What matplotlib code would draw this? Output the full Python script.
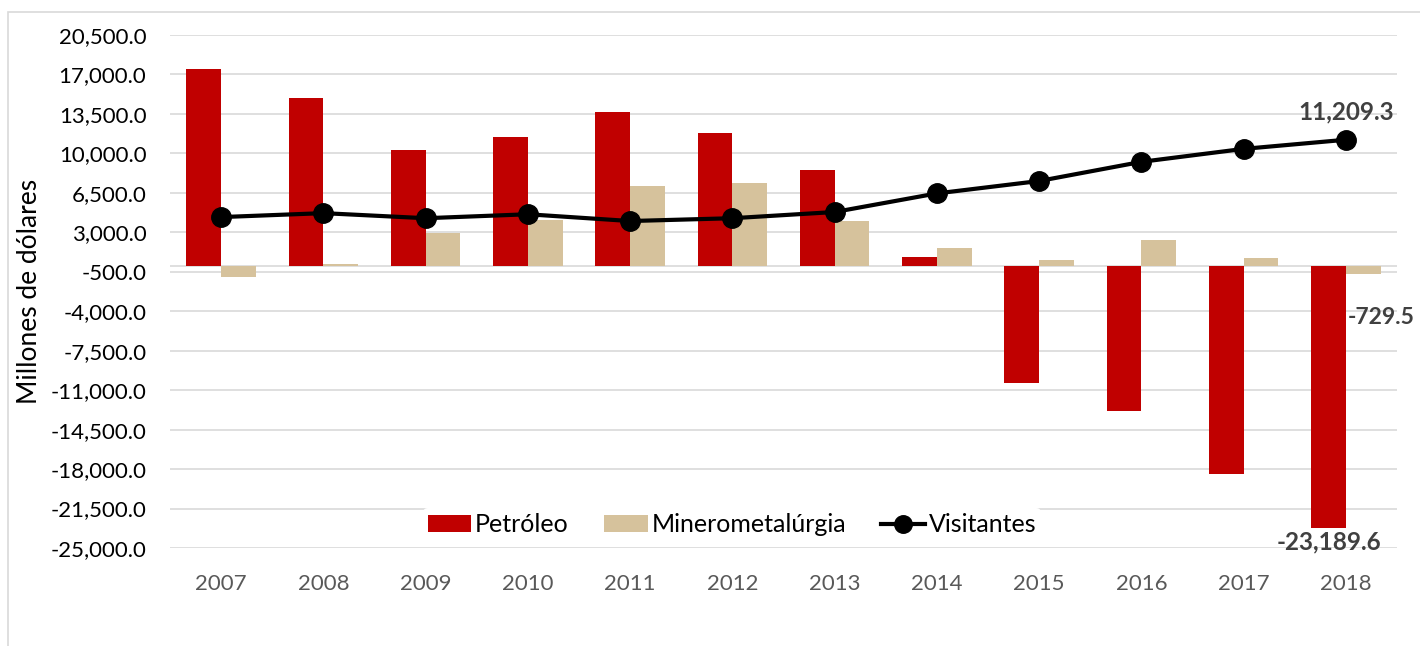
import numpy as np
import matplotlib.pyplot as plt
from matplotlib.patches import Rectangle

plt.rcParams['font.family'] = ['Lato', 'DejaVu Sans']

years = ['2007', '2008', '2009', '2010', '2011', '2012', '2013', '2014', '2015', '2016', '2017', '2018']
petroleo = [17500, 14900, 10300, 11450, 13650, 11800, 8500, 850, -10350, -12850, -18450, -23189.6]
minero = [-950, 150, 2950, 4100, 7100, 7350, 4000, 1650, 550, 2350, 750, -729.5]
visitantes = [4350, 4700, 4250, 4600, 4000, 4250, 4800, 6450, 7550, 9250, 10400, 11209.3]
yticks = np.arange(-25000, 20501, 3500)

fig = plt.figure(figsize=(14.2, 6.46), dpi=100)
ax = fig.add_axes([170/1420, 1-548/646, (1397-170)/1420, (548-35)/646])

# chart border
fig.patches.append(Rectangle((8/1420, -0.01), 1.0, 1-12/646+0.01, transform=fig.transFigure,
                             fill=False, edgecolor='#d9d9d9', linewidth=1.2))

x = np.arange(len(years))
w = 0.34
b1 = ax.bar(x - w/2, petroleo, w, color='#c00000', label='Petróleo', zorder=2)
b2 = ax.bar(x + w/2, minero, w, color='#d6c29c', label='Minerometalúrgia', zorder=2)
l1, = ax.plot(x, visitantes, color='black', linewidth=3, marker='o', markersize=14,
              label='Visitantes', zorder=3)

ax.set_xlim(-0.5, len(years) - 0.5)
ax.set_ylim(-25000, 20500)
ax.set_yticks(yticks)
ax.set_yticklabels([f'{v:,.1f}' for v in yticks], fontsize=16, color='black')
ax.set_xticks(x)
ax.set_xticklabels(years, fontsize=16, color='#595959')
ax.tick_params(axis='y', length=0, pad=17)
ax.tick_params(axis='x', length=0, pad=19)
ax.grid(axis='y', color='#d9d9d9', linewidth=1.2, zorder=0)
ax.axhline(0, color='#d9d9d9', linewidth=1.2, zorder=1)
for s in ax.spines.values():
    s.set_visible(False)
ax.set_ylabel('Millones de dólares', fontsize=19)
ax.yaxis.set_label_coords(-0.104, 0.5)

ax.annotate(f'{visitantes[-1]:,.1f}', (x[-1], visitantes[-1]), xytext=(0, 12),
            textcoords='offset points', ha='center', va='bottom', fontsize=17.5,
            fontweight='bold', color='#404040')
ax.annotate(f'{minero[-1]:,.1f}', (x[-1], minero[-1]), xytext=(1, -31),
            textcoords='offset points', ha='left', va='center', fontsize=16.5,
            fontweight='bold', color='#404040')
ax.annotate(f'{petroleo[-1]:,.1f}', (x[-1] - w/2, petroleo[-1]), xytext=(0, -2),
            textcoords='offset points', ha='center', va='top', fontsize=17.5,
            fontweight='bold', color='#404040')

leg = ax.legend([b1, b2, l1], ['Petróleo', 'Minerometalúrgia', 'Visitantes'],
                loc='center', bbox_to_anchor=(0.458, 0.045), ncol=3, frameon=True,
                fontsize=18, handlelength=1.75, columnspacing=1.4, handletextpad=0.15,
                borderpad=0.2, markerscale=0.9)
leg.get_frame().set_edgecolor('none')
leg.get_frame().set_facecolor('white')
leg.get_frame().set_alpha(1)

fig.savefig('out.png', dpi=100)
